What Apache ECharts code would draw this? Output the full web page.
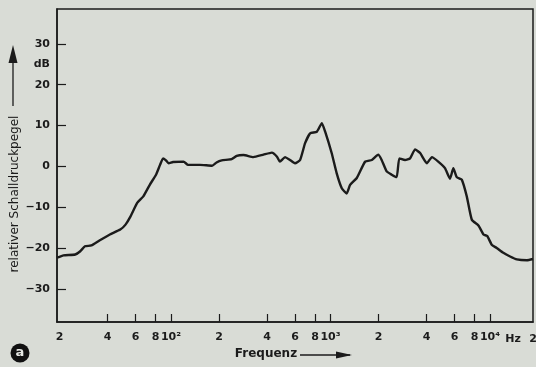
<!DOCTYPE html>
<html lang="de" style="height: 100%">
<head>
  <meta charset="utf-8">
  <script src="https://cdn.jsdelivr.net/npm/echarts/dist/echarts.min.js"></script>
</head>
<body style="height: 100%; margin: 0; background: #d9dcd6">
  <div id="container" style="width: 536px; height: 367px"></div>

  <script type="text/javascript">
    // Frequenzgang (Hz, dB)
    var freq = [
      19.3, 21.2, 25.1, 27.0, 28.9, 31.7, 35.6, 41.4, 48.1, 51.9,
      55.8, 61.4, 67.1, 73.8, 80.6, 85.4, 89.2, 93.0, 96.6, 103,
      120, 128, 152, 181, 193, 208, 240, 258, 285, 328,
      380, 429, 462, 482, 519, 557, 599, 645, 693, 745,
      821, 883, 926, 1017, 1093, 1177, 1264, 1327, 1462, 1649,
      1817, 1992, 2093, 2250, 2418, 2600, 2701, 2934, 3154, 3392,
      3647, 4020, 4323, 4736, 5220, 5613, 5890, 6187, 6651, 7151,
      7689, 8463, 9101, 9611, 10250, 11010, 12120, 13360, 14720, 17030,
      18600
    ];
    var level = [
      -22.3, -21.7, -21.5, -20.7, -19.5, -19.3, -18.1, -16.6, -15.4, -14.2,
      -12.2, -8.9, -7.3, -4.4, -2.0, 0.4, 2.0, 1.5, 0.8, 1.1,
      1.2, 0.4, 0.4, 0.2, 1.0, 1.5, 1.8, 2.6, 2.8, 2.3,
      2.9, 3.4, 2.4, 1.2, 2.3, 1.6, 0.8, 1.6, 5.7, 8.1,
      8.5, 10.6, 8.5, 3.3, -1.6, -5.3, -6.6, -4.5, -2.8, 1.2,
      1.6, 2.9, 1.6, -1.2, -2.0, -2.6, 2.0, 1.6, 2.0, 4.2,
      3.3, 0.8, 2.3, 1.2, -0.4, -3.0, -0.4, -2.6, -3.2, -7.3,
      -13.0, -14.4, -16.6, -17.0, -19.1, -19.9, -21.1, -22.0, -22.7, -22.9,
      -22.6
    ];

    var xTickValues = [40, 60, 80, 100, 200, 400, 600, 800, 1000, 2000, 4000, 6000, 8000, 10000];
    var xLabelValues = [20, 40, 60, 80, 100, 200, 400, 600, 800, 1000, 2000, 4000, 6000, 8000, 10000];
    var xLabelTexts = ['2', '4', '6', '8', '10²', '2', '4', '6', '8', '10³', '2', '4', '6', '8', '10⁴'];
    var yTickValues = [-30, -20, -10, 0, 10, 20, 30];
    var yLabelValues = [-30, -20, -10, 0, 10, 20, 25, 30];

    var ink = '#1b1b1b';
    var font = 'DejaVu Sans';

    var points = freq.map(function (f, i) { return [f, level[i]]; });

    var dom = document.getElementById('container');
    var myChart = echarts.init(dom, null, { renderer: 'canvas' });

    var option = {
      backgroundColor: '#d9dcd6',
      animation: false,
      grid: {
        left: 57, right: 3, top: 9, bottom: 45,
        show: true,
        borderColor: ink,
        borderWidth: 1.5
      },
      xAxis: {
        type: 'log',
        logBase: 10,
        min: 19.3,
        max: 18600,
        axisLine: { onZero: false, lineStyle: { color: ink, width: 1.5 } },
        axisTick: {
          inside: true, length: 8,
          customValues: xTickValues,
          lineStyle: { color: ink, width: 1.2 }
        },
        axisLabel: {
          customValues: xLabelValues,
          margin: 10,
          color: ink,
          fontFamily: font,
          fontWeight: 'bold',
          fontSize: 11,
          formatter: function (v) {
            var i = xLabelValues.indexOf(Math.round(v));
            return i >= 0 ? xLabelTexts[i] : '';
          }
        },
        splitLine: { show: false },
        minorTick: { show: false }
      },
      yAxis: {
        type: 'value',
        min: -38,
        max: 38.5,
        axisLine: { show: true, onZero: false, lineStyle: { color: ink, width: 1.5 } },
        axisTick: {
          show: true, inside: true, length: 9,
          customValues: yTickValues,
          lineStyle: { color: ink, width: 1.2 }
        },
        axisLabel: {
          customValues: yLabelValues,
          margin: 7,
          color: ink,
          fontFamily: font,
          fontWeight: 'bold',
          fontSize: 11,
          formatter: function (v) {
            if (v === 25) return 'dB';
            return v < 0 ? '\u2212' + Math.abs(v) : String(v);
          }
        },
        splitLine: { show: false }
      },
      graphic: [
        // Achsentitel y
        {
          type: 'text', x: 15, y: 194, rotation: Math.PI / 2,
          style: {
            text: 'relativer Schalldruckpegel', fill: ink,
            font: '12px "DejaVu Sans"', align: 'center', verticalAlign: 'middle'
          }
        },
        { type: 'line', shape: { x1: 13, y1: 106, x2: 13, y2: 60 }, style: { stroke: ink, lineWidth: 1.3 } },
        { type: 'polygon', shape: { points: [[13, 45], [8.5, 63], [17.5, 63]] }, style: { fill: ink } },
        // Achsentitel x
        {
          type: 'text', x: 266, y: 354,
          style: {
            text: 'Frequenz', fill: ink,
            font: 'bold 12px "DejaVu Sans"', align: 'center', verticalAlign: 'middle'
          }
        },
        { type: 'line', shape: { x1: 300, y1: 355, x2: 350, y2: 355 }, style: { stroke: ink, lineWidth: 1.3 } },
        { type: 'polygon', shape: { points: [[352, 355], [336, 351.5], [336, 358.5]] }, style: { fill: ink } },
        // Einheit und letzte Beschriftung
        {
          type: 'text', x: 513, y: 339,
          style: { text: 'Hz', fill: ink, font: 'bold 11px "DejaVu Sans"', align: 'center', verticalAlign: 'middle' }
        },
        {
          type: 'text', x: 533, y: 339,
          style: { text: '2', fill: ink, font: 'bold 11px "DejaVu Sans"', align: 'center', verticalAlign: 'middle' }
        },
        // Bildkennung
        { type: 'circle', shape: { cx: 20, cy: 353, r: 9.5 }, style: { fill: '#111' } },
        {
          type: 'text', x: 20, y: 353,
          style: { text: 'a', fill: '#e6e8e4', font: 'bold 13px "DejaVu Sans"', align: 'center', verticalAlign: 'middle' }
        }
      ],
      series: [
        {
          type: 'line',
          data: points,
          showSymbol: false,
          smooth: 0.15,
          lineStyle: { color: ink, width: 2.4 }
        }
      ]
    };

    myChart.setOption(option);
    window.addEventListener('resize', myChart.resize);
  </script>
</body>
</html>
